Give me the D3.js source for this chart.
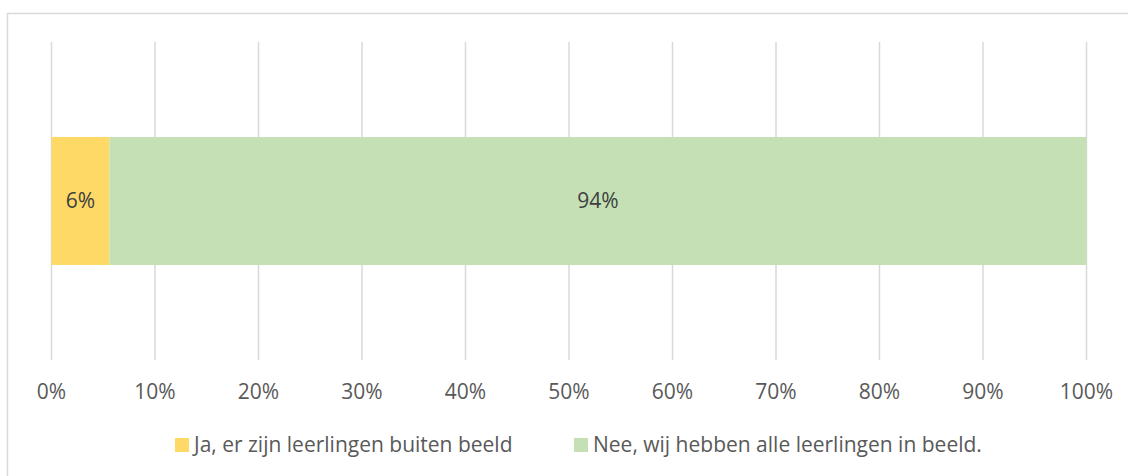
<!DOCTYPE html>
<html>
<head>
<meta charset="utf-8">
<script src="https://cdn.jsdelivr.net/npm/d3@7"></script>
<style>
  body { margin: 0; background: #fff; }
  text { font-family: "Open Sans", sans-serif; fill: #595959; }
</style>
</head>
<body>
<script>
// answers and their share (percent)
var categories = ["vraag"];
var seriesNames = ["Ja, er zijn leerlingen buiten beeld", "Nee, wij hebben alle leerlingen in beeld."];
var seriesValues = [5.6, 94.4];
var seriesLabels = ["6%", "94%"];
var seriesColors = ["#FFD966", "#C5E0B4"];
var tickValues = [0, 10, 20, 30, 40, 50, 60, 70, 80, 90, 100];

var width = 1128, height = 476;
var margin = {top: 42, right: 42, bottom: 116, left: 51.5};

var svg = d3.select("body").append("svg")
    .attr("width", width)
    .attr("height", height);

// chart border (runs off the right/bottom edge like the original)
svg.append("rect")
    .attr("x", 7.5).attr("y", 13.5)
    .attr("width", 1200).attr("height", 600)
    .attr("fill", "none")
    .attr("stroke", "#d9d9d9")
    .attr("stroke-width", 1.5);

var x = d3.scaleLinear().domain([0, 100]).range([margin.left, 1086.5]);
var y = d3.scaleBand().domain(categories).range([margin.top, height - margin.bottom]).padding(0.426);

// gridlines
svg.append("g").selectAll("line")
    .data(tickValues)
    .enter().append("line")
      .attr("x1", function(d) { return x(d); })
      .attr("x2", function(d) { return x(d); })
      .attr("y1", margin.top)
      .attr("y2", height - margin.bottom)
      .attr("stroke", "#d9d9d9")
      .attr("stroke-width", 1.5);

// stack the two answers
var stacked = [];
var acc = 0;
for (let i = 0; i < seriesValues.length; i++) {
    stacked.push({name: seriesNames[i], x0: acc, x1: acc + seriesValues[i], label: seriesLabels[i], color: seriesColors[i]});
    acc += seriesValues[i];
}

var bars = svg.append("g").selectAll("g")
    .data(stacked)
    .enter().append("g");

bars.append("rect")
    .attr("x", function(d) { return x(d.x0); })
    .attr("y", y(categories[0]))
    .attr("width", function(d) { return x(d.x1) - x(d.x0); })
    .attr("height", y.bandwidth())
    .attr("fill", function(d) { return d.color; });

bars.append("text")
    .attr("x", function(d) { return (x(d.x0) + x(d.x1)) / 2; })
    .attr("y", y(categories[0]) + y.bandwidth() / 2)
    .attr("dy", ".35em")
    .attr("text-anchor", "middle")
    .style("font-size", "21px")
    .style("fill", "#404040")
    .text(function(d) { return d.label; });

// x axis labels
svg.append("g").selectAll("text")
    .data(tickValues)
    .enter().append("text")
      .attr("x", function(d) { return x(d); })
      .attr("y", 392)
      .attr("dy", ".35em")
      .attr("text-anchor", "middle")
      .style("font-size", "21px")
      .text(function(d) { return d + "%"; });

// legend
var legendX = [175, 574];
var legend = svg.append("g").selectAll("g")
    .data(stacked)
    .enter().append("g")
      .attr("transform", function(d, i) { return "translate(" + legendX[i] + ",438)"; });

legend.append("rect")
    .attr("width", 14).attr("height", 14)
    .attr("fill", function(d) { return d.color; });

legend.append("text")
    .attr("x", 19)
    .attr("y", 7)
    .attr("dy", ".35em")
    .style("font-size", "21px")
    .text(function(d) { return d.name; });
</script>
</body>
</html>
